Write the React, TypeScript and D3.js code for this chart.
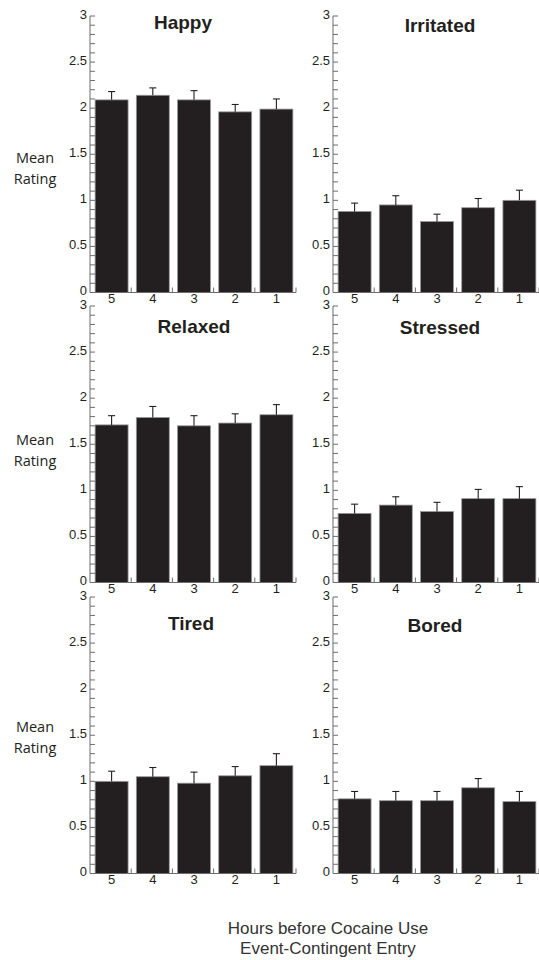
import { useEffect, useRef } from 'react';
import * as d3 from 'd3';

// hours before cocaine use (x categories)
const hours = ['5', '4', '3', '2', '1'];
const emotions = ['Happy', 'Irritated', 'Relaxed', 'Stressed', 'Tired', 'Bored'];

// mean ratings and standard errors
const happyMeans = [2.09, 2.14, 2.09, 1.96, 1.99];
const happyErr = [0.09, 0.08, 0.1, 0.08, 0.11];
const irritatedMeans = [0.88, 0.95, 0.77, 0.92, 1.0];
const irritatedErr = [0.09, 0.1, 0.08, 0.1, 0.11];
const relaxedMeans = [1.71, 1.79, 1.7, 1.73, 1.82];
const relaxedErr = [0.1, 0.12, 0.11, 0.1, 0.11];
const stressedMeans = [0.75, 0.84, 0.77, 0.91, 0.91];
const stressedErr = [0.1, 0.09, 0.1, 0.1, 0.13];
const tiredMeans = [1.0, 1.05, 0.98, 1.06, 1.17];
const tiredErr = [0.11, 0.1, 0.12, 0.1, 0.13];
const boredMeans = [0.81, 0.79, 0.79, 0.93, 0.78];
const boredErr = [0.08, 0.1, 0.1, 0.1, 0.11];

const yMajorTicks = [0, 0.5, 1, 1.5, 2, 2.5, 3];

const allMeans = [happyMeans, irritatedMeans, relaxedMeans, stressedMeans, tiredMeans, boredMeans];
const allErr = [happyErr, irritatedErr, relaxedErr, stressedErr, tiredErr, boredErr];

const W = 539;
const H = 960;
const colX = [90, 333];
const rowTop = [16, 306, 597];
const panelW = 206;
const panelH = 276.5;
// title placement per panel (centre x, baseline offset from panel top)
const titlePos = [
  { x: 183, dy: 13 }, { x: 440, dy: 16 },
  { x: 194, dy: 27 }, { x: 440, dy: 28 },
  { x: 191, dy: 33 }, { x: 435, dy: 35 },
];
const meanLabelDy = [147, 139, 135];

const INK = '#231f20';
const AXIS = '#6d6d6d';

export default function App() {
  const svgRef = useRef<SVGSVGElement>(null);

  useEffect(() => {
    if (!svgRef.current) return;
    const svg = d3.select(svgRef.current);
    svg.selectAll('*').remove();

    emotions.forEach((name, p) => {
      const col = p % 2;
      const row = Math.floor(p / 2);
      const x0 = colX[col];
      const top = rowTop[row];

      const y = d3.scaleLinear().domain([0, 3]).range([top + panelH, top]);
      const x = d3.scaleBand<string>()
        .domain(hours)
        .range([x0, x0 + panelW])
        .paddingInner(0.2)
        .paddingOuter(0.1);

      const g = svg.append('g');
      const means = allMeans[p];
      const errs = allErr[p];

      // bars
      g.selectAll('rect.bar')
        .data(hours)
        .enter()
        .append('rect')
        .attr('class', 'bar')
        .attr('x', d => x(d)! + 1)
        .attr('y', (d, i) => y(means[i]))
        .attr('width', x.bandwidth())
        .attr('height', (d, i) => y(0) - y(means[i]))
        .attr('fill', INK)
        .attr('stroke', '#9a9a9a')
        .attr('stroke-width', 0.8);

      // error bars (upper)
      hours.forEach((d, i) => {
        const cx = x(d)! + 1 + x.bandwidth() / 2;
        g.append('line')
          .attr('x1', cx).attr('x2', cx)
          .attr('y1', y(means[i])).attr('y2', y(means[i] + errs[i]))
          .attr('stroke', INK).attr('stroke-width', 1.1);
        g.append('line')
          .attr('x1', cx - 3.5).attr('x2', cx + 3.5)
          .attr('y1', y(means[i] + errs[i])).attr('y2', y(means[i] + errs[i]))
          .attr('stroke', INK).attr('stroke-width', 1.1);
      });

      // y axis: line, minor ticks every 0.1 pointing inward
      g.append('line')
        .attr('x1', x0).attr('x2', x0)
        .attr('y1', y(0)).attr('y2', y(3))
        .attr('stroke', AXIS).attr('stroke-width', 1);
      g.selectAll('line.ytick')
        .data(y.ticks(30))
        .enter()
        .append('line')
        .attr('class', 'ytick')
        .attr('x1', x0).attr('x2', x0 + 5)
        .attr('y1', d => y(d)).attr('y2', d => y(d))
        .attr('stroke', AXIS).attr('stroke-width', 1);
      g.selectAll('text.ylab')
        .data(yMajorTicks)
        .enter()
        .append('text')
        .attr('class', 'ylab')
        .attr('x', x0 - 3)
        .attr('y', d => y(d))
        .attr('dy', '0.2em')
        .attr('text-anchor', 'end')
        .attr('font-family', '"Liberation Sans", Arial, sans-serif')
        .attr('font-size', 13)
        .attr('fill', INK)
        .text(d => String(d));

      // x axis: line with ticks at band boundaries
      g.append('line')
        .attr('x1', x0).attr('x2', x0 + panelW)
        .attr('y1', y(0)).attr('y2', y(0))
        .attr('stroke', AXIS).attr('stroke-width', 1);
      g.selectAll('line.xtick')
        .data(hours)
        .enter()
        .append('line')
        .attr('class', 'xtick')
        .attr('x1', (d, i) => x0 + x.step() * (i + 1))
        .attr('x2', (d, i) => x0 + x.step() * (i + 1))
        .attr('y1', y(0)).attr('y2', y(0) - 5)
        .attr('stroke', AXIS).attr('stroke-width', 1);
      g.selectAll('text.xlab')
        .data(hours)
        .enter()
        .append('text')
        .attr('class', 'xlab')
        .attr('x', d => x(d)! + 1 + x.bandwidth() / 2)
        .attr('y', y(0) + 10.5)
        .attr('text-anchor', 'middle')
        .attr('font-family', '"Liberation Sans", Arial, sans-serif')
        .attr('font-size', 13)
        .attr('fill', INK)
        .text(d => d);

      // panel title
      g.append('text')
        .attr('x', titlePos[p].x)
        .attr('y', top + titlePos[p].dy)
        .attr('text-anchor', 'middle')
        .attr('font-family', '"Liberation Sans", Arial, sans-serif')
        .attr('font-weight', 'bold')
        .attr('font-size', 19)
        .attr('fill', INK)
        .text(name);

      // y label on the left column
      if (col === 0) {
        const ly = top + meanLabelDy[row];
        ['Mean', 'Rating'].forEach((t, k) => {
          g.append('text')
            .attr('x', 35)
            .attr('y', ly + k * 20.5)
            .attr('text-anchor', 'middle')
            .attr('font-family', '"Open Sans", sans-serif')
            .attr('font-size', 14.5)
            .attr('fill', INK)
            .text(t);
        });
      }
    });

    // bottom x label
    ['Hours before Cocaine Use', 'Event-Contingent Entry'].forEach((t, k) => {
      svg.append('text')
        .attr('x', 328)
        .attr('y', 934 + k * 19.5)
        .attr('text-anchor', 'middle')
        .attr('font-family', '"Liberation Sans", Arial, sans-serif')
        .attr('font-size', 17)
        .attr('fill', '#333')
        .text(t);
    });
  }, []);

  return (
    <div style={{ position: 'absolute', left: 0, top: 0, background: '#fff' }}>
      <svg ref={svgRef} width={W} height={H} style={{ display: 'block' }}></svg>
    </div>
  );
}
